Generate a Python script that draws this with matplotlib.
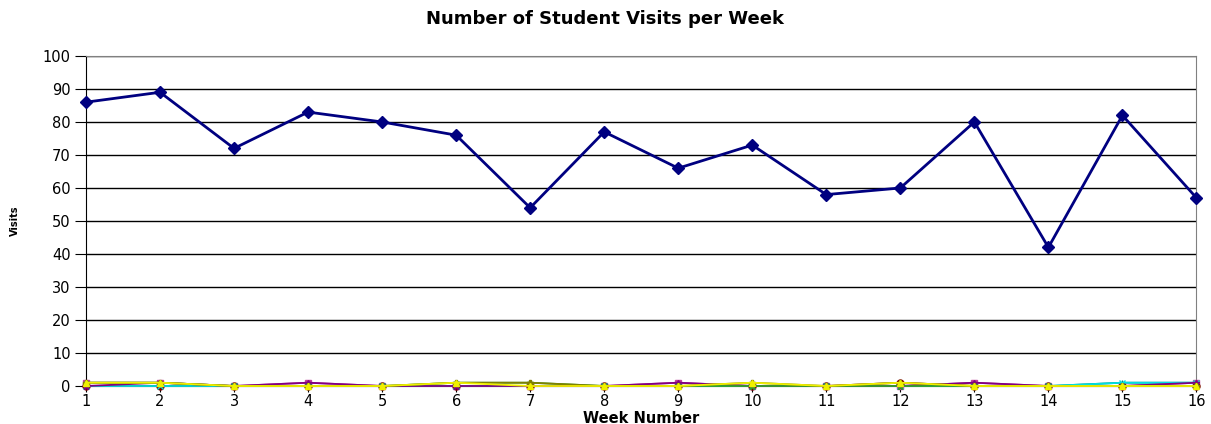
import numpy as np
import matplotlib
matplotlib.use('Agg')
import matplotlib.pyplot as plt

weeks = np.arange(1, 17)

# main series (total visits)
total_visits = [86, 89, 72, 83, 80, 76, 54, 77, 66, 73, 58, 60, 80, 42, 82, 57]

# small series hugging the bottom
magenta_s = [1, 1, 0, 1, 0, 0, 0, 0, 1, 0, 0, 0, 1, 0, 0, 1]
yellow_s = [1, 1, 0, 0, 0, 1, 0, 0, 0, 1, 0, 1, 0, 0, 0, 0]
cyan_s = [0, 0, 0, 0, 0, 0, 0, 0, 0, 0, 0, 0, 0, 0, 1, 1]
purple_s = [0, 1, 0, 1, 0, 0, 0, 0, 1, 0, 0, 0, 1, 0, 0, 1]
maroon_s = [0, 0, 0, 0, 0, 0, 0, 0, 0, 0, 0, 1, 0, 0, 0, 0]
green_s = [1, 1, 0, 0, 0, 1, 1, 0, 0, 0, 0, 0, 0, 0, 0, 0]
teal_s = [0, 0, 0, 0, 0, 0, 0, 0, 0, 0, 0, 0, 0, 0, 1, 1]
olive_s = [1, 1, 0, 0, 0, 1, 1, 0, 0, 1, 0, 1, 0, 0, 0, 0]

small_series = [
    (teal_s, '#008080', '+'),
    (magenta_s, '#c0409a', 's'),
    (maroon_s, '#800000', 'o'),
    (cyan_s, '#00e0e0', 'x'),
    (purple_s, '#800080', '*'),
    (green_s, '#33a02c', '*'),
    (olive_s, '#808000', 'P'),
    (yellow_s, '#f0f000', '^'),
]

fonts = ['DejaVu Sans']

fig = plt.figure(figsize=(12.11, 4.24), dpi=100)
ax = fig.add_axes([0.071, 0.0896, 0.917, 0.7784])

for vals, col, mk in small_series:
    ax.plot(weeks, vals, color=col, marker=mk, markersize=5, linewidth=1.3,
            clip_on=False, zorder=3)
ax.plot(weeks, total_visits, color='#000080', marker='D', markersize=6,
        linewidth=2, clip_on=False, zorder=4)

ax.set_xlim(1, 16)
ax.set_ylim(0, 100)
ax.set_yticks(np.arange(0, 101, 10))
ax.set_xticks(weeks)
ax.yaxis.grid(True, color='black', linewidth=1)
ax.set_axisbelow(True)

for s in ['top', 'right']:
    ax.spines[s].set_color('#808080')
ax.spines['left'].set_color('black')
ax.spines['bottom'].set_color('black')
ax.tick_params(axis='y', length=8, direction='out', labelsize=10.5, pad=3)
ax.tick_params(axis='x', length=4, direction='out', labelsize=10.5, pad=2)

for lbl in ax.get_xticklabels() + ax.get_yticklabels():
    lbl.set_family(fonts)

fig.text(0.5, 0.955, 'Number of Student Visits per Week', ha='center', va='center',
         fontsize=13, fontweight='bold', family=fonts)
ax.set_xlabel('Week Number', fontsize=10.5, fontweight='bold', labelpad=1,
              family=fonts)
fig.text(15 / 1211, 1 - 221 / 424, 'Visits', rotation=90, ha='center', va='center',
         fontsize=7, fontweight='bold', family=fonts)

fig.savefig('out.png', dpi=100)
